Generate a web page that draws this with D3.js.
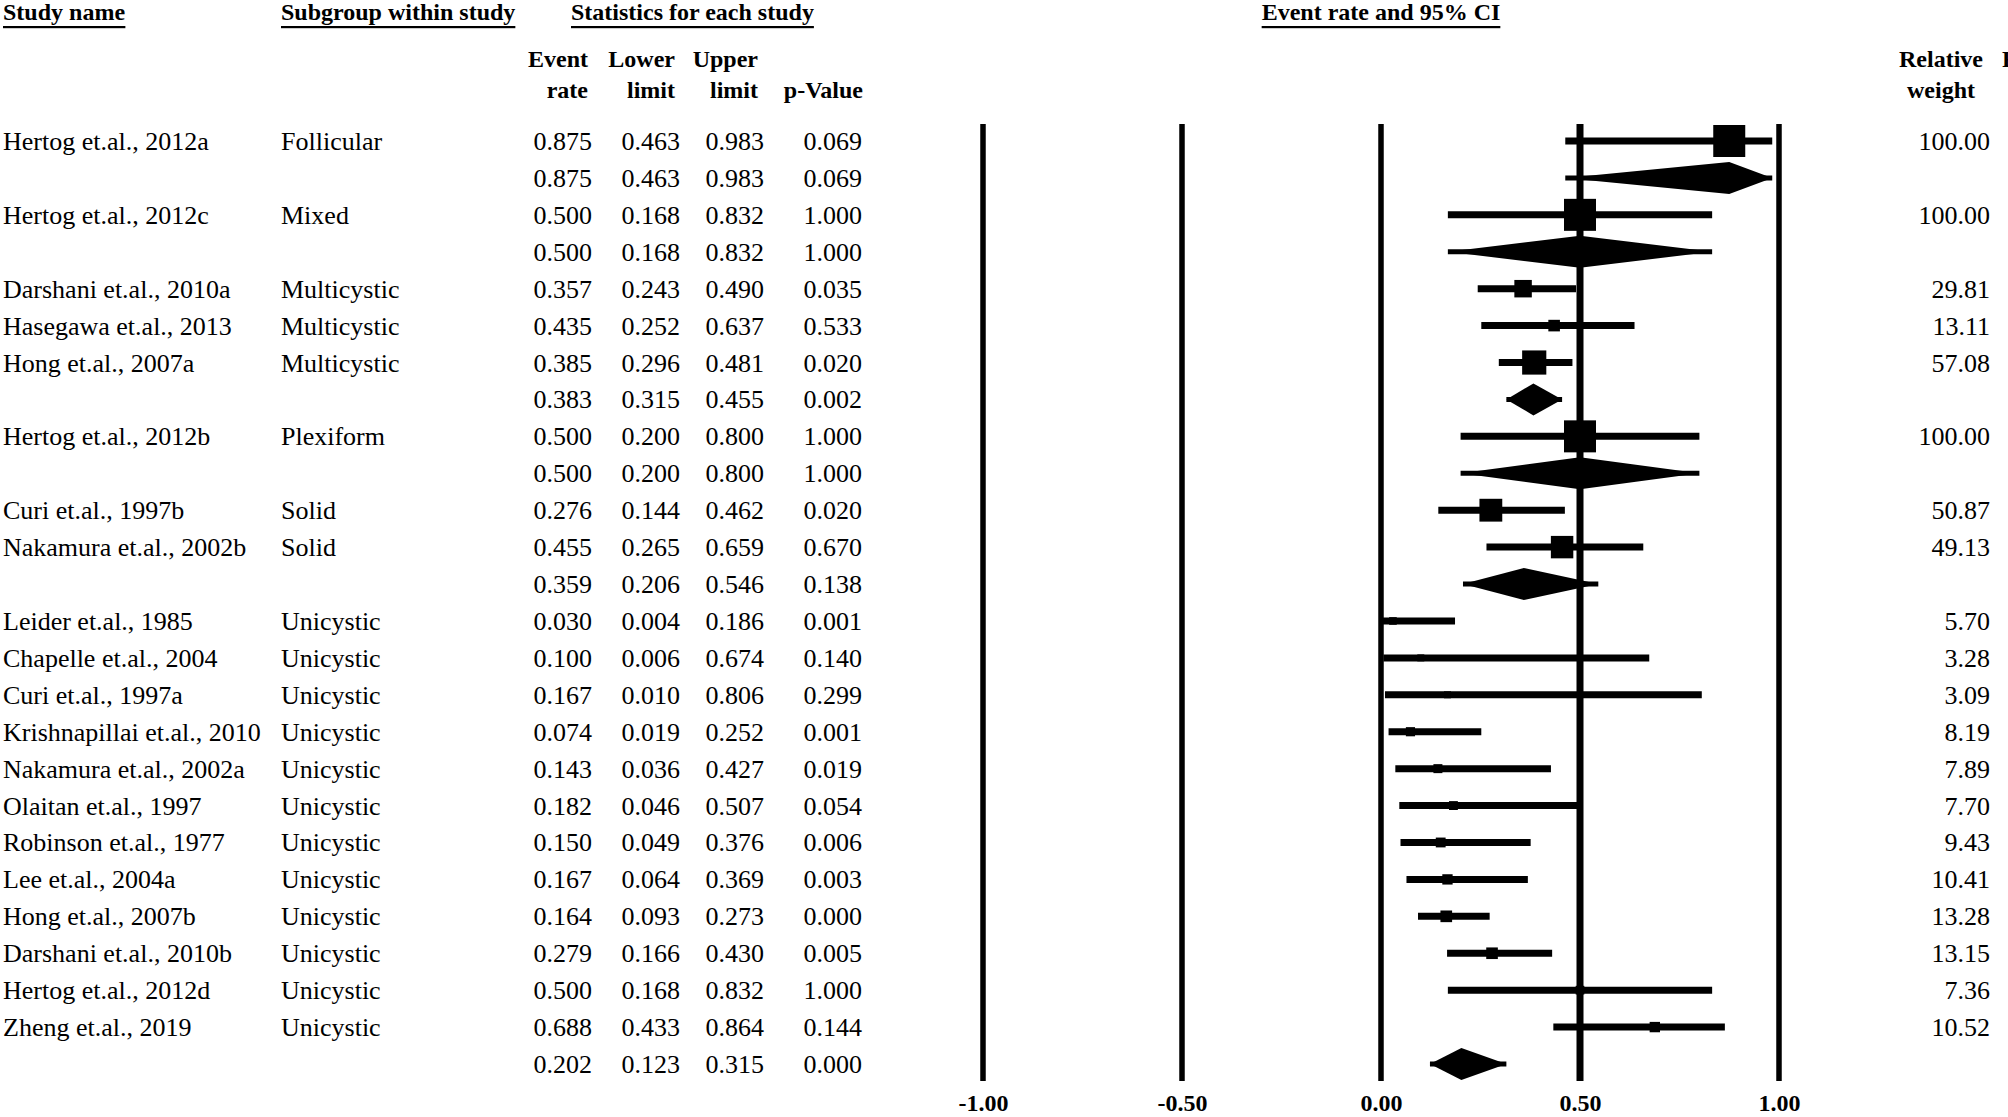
<!DOCTYPE html>
<html lang="en">
<head>
<meta charset="UTF-8">
<title>Forest plot - event rate and 95% CI</title>
<style>
  body { margin: 0; background: #fff; }
  svg { display: block; font-family: "Liberation Serif", "Times New Roman", serif; }
  .hdr { font-weight: bold; font-size: 24px; }
  .cell { font-size: 26px; }
</style>
</head>
<body>
<script src="https://cdn.jsdelivr.net/npm/d3@7"></script>
<script>
    const width = 2008, height = 1117;

    // one entry per row; summary (subgroup total) rows have an empty name
    const studyNames = ["Hertog et.al., 2012a", "", "Hertog et.al., 2012c", "",
        "Darshani et.al., 2010a", "Hasegawa et.al., 2013", "Hong et.al., 2007a", "",
        "Hertog et.al., 2012b", "", "Curi et.al., 1997b", "Nakamura et.al., 2002b", "",
        "Leider et.al., 1985", "Chapelle et.al., 2004", "Curi et.al., 1997a",
        "Krishnapillai et.al., 2010", "Nakamura et.al., 2002a", "Olaitan et.al., 1997",
        "Robinson et.al., 1977", "Lee et.al., 2004a", "Hong et.al., 2007b",
        "Darshani et.al., 2010b", "Hertog et.al., 2012d", "Zheng et.al., 2019", ""];
    const subgroups = ["Follicular", "", "Mixed", "",
        "Multicystic", "Multicystic", "Multicystic", "",
        "Plexiform", "", "Solid", "Solid", "",
        "Unicystic", "Unicystic", "Unicystic", "Unicystic", "Unicystic", "Unicystic",
        "Unicystic", "Unicystic", "Unicystic", "Unicystic", "Unicystic", "Unicystic", ""];
    const eventRate = [0.875, 0.875, 0.500, 0.500, 0.357, 0.435, 0.385, 0.383, 0.500, 0.500,
        0.276, 0.455, 0.359, 0.030, 0.100, 0.167, 0.074, 0.143, 0.182, 0.150, 0.167, 0.164,
        0.279, 0.500, 0.688, 0.202];
    const lowerLimit = [0.463, 0.463, 0.168, 0.168, 0.243, 0.252, 0.296, 0.315, 0.200, 0.200,
        0.144, 0.265, 0.206, 0.004, 0.006, 0.010, 0.019, 0.036, 0.046, 0.049, 0.064, 0.093,
        0.166, 0.168, 0.433, 0.123];
    const upperLimit = [0.983, 0.983, 0.832, 0.832, 0.490, 0.637, 0.481, 0.455, 0.800, 0.800,
        0.462, 0.659, 0.546, 0.186, 0.674, 0.806, 0.252, 0.427, 0.507, 0.376, 0.369, 0.273,
        0.430, 0.832, 0.864, 0.315];
    const pValue = [0.069, 0.069, 1.000, 1.000, 0.035, 0.533, 0.020, 0.002, 1.000, 1.000,
        0.020, 0.670, 0.138, 0.001, 0.140, 0.299, 0.001, 0.019, 0.054, 0.006, 0.003, 0.000,
        0.005, 1.000, 0.144, 0.000];
    const relWeight = [100.00, null, 100.00, null, 29.81, 13.11, 57.08, null, 100.00, null,
        50.87, 49.13, null, 5.70, 3.28, 3.09, 8.19, 7.89, 7.70, 9.43, 10.41, 13.28,
        13.15, 7.36, 10.52, null];
    const axisTicks = [-1, -0.5, 0, 0.5, 1];

    const rows = studyNames.map((name, i) => ({
        name, sub: subgroups[i], er: eventRate[i], lo: lowerLimit[i], hi: upperLimit[i],
        p: pValue[i], w: relWeight[i], summary: name === ""
    }));

    const x = d3.scaleLinear().domain([-1, 1]).range([983, 1779]);
    const y = d3.scalePoint().domain(d3.range(rows.length)).range([141, 1064]);
    const f3 = d3.format(".3f"), f2 = d3.format(".2f");

    const svg = d3.select("body").append("svg")
        .attr("width", width).attr("height", height)
        .attr("viewBox", [0, 0, width, height]);

    // underlined group headers
    const heads = [
        {t: "Study name", x: 3, a: "start"},
        {t: "Subgroup within study", x: 281, a: "start"},
        {t: "Statistics for each study", x: 571, a: "start"},
        {t: "Event rate and 95% CI", x: x(0), a: "middle"}
    ];
    heads.forEach(h => {
        const t = svg.append("text").attr("class", "hdr")
            .attr("x", h.x).attr("y", 20).attr("text-anchor", h.a).text(h.t);
        const bb = t.node().getBBox();
        svg.append("rect").attr("x", bb.x).attr("y", 26).attr("width", bb.width).attr("height", 2.2).attr("fill", "#000");
    });

    // column sub-headers
    const cols = [
        {l1: "Event", l2: "rate", x: 588},
        {l1: "Lower", l2: "limit", x: 675},
        {l1: "Upper", l2: "limit", x: 758},
        {l1: "", l2: "p-Value", x: 863}
    ];
    cols.forEach(c => {
        svg.append("text").attr("class", "hdr").attr("x", c.x).attr("y", 67).attr("text-anchor", "end").text(c.l1);
        svg.append("text").attr("class", "hdr").attr("x", c.x).attr("y", 98).attr("text-anchor", "end").text(c.l2);
    });
    svg.append("text").attr("class", "hdr").attr("x", 1941).attr("y", 67).attr("text-anchor", "middle").text("Relative");
    svg.append("text").attr("class", "hdr").attr("x", 1941).attr("y", 98).attr("text-anchor", "middle").text("weight");
    // next column header, cut off by the page edge as in the original
    svg.append("text").attr("class", "hdr").attr("x", 2002).attr("y", 67).text("Relative");
    svg.append("text").attr("class", "hdr").attr("x", 2010).attr("y", 98).text("weight");

    // table text
    const valEnds = {er: 592, lo: 680, hi: 764, p: 862};
    const tbl = svg.append("g").attr("class", "cell");
    rows.forEach((d, i) => {
        const by = y(i) + 9;
        tbl.append("text").attr("x", 3).attr("y", by).text(d.name);
        tbl.append("text").attr("x", 281).attr("y", by).text(d.sub);
        Object.keys(valEnds).forEach(k => {
            tbl.append("text").attr("x", valEnds[k]).attr("y", by).attr("text-anchor", "end").text(f3(d[k]));
        });
        if (d.w != null)
            tbl.append("text").attr("x", 1990).attr("y", by).attr("text-anchor", "end").text(f2(d.w));
    });

    // vertical reference lines
    svg.append("g").selectAll("line").data(axisTicks).join("line")
        .attr("x1", d => x(d)).attr("x2", d => x(d))
        .attr("y1", 124).attr("y2", 1081)
        .attr("stroke", "#000").attr("stroke-width", d => d === 0.5 ? 7 : 5.5);

    // axis labels
    svg.append("g")
        .attr("transform", "translate(0,1095)")
        .call(d3.axisBottom(x).tickValues(axisTicks).tickSize(0)
            .tickFormat(d => f2(d).replace("\u2212", "-")))
        .call(g => g.select(".domain").remove())
        .call(g => g.selectAll("text").attr("class", "hdr").attr("fill", "#000")
            .style("font-family", "'Liberation Serif', serif").attr("dy", 0).attr("y", 16));

    // confidence intervals
    const plot = svg.append("g");
    plot.selectAll("line.ci").data(rows).join("line").attr("class", "ci")
        .attr("x1", d => x(d.lo)).attr("x2", d => x(d.hi))
        .attr("y1", (d, i) => y(i)).attr("y2", (d, i) => y(i))
        .attr("stroke", "#000").attr("stroke-width", d => d.summary ? 5 : 7);

    // study squares, side by sqrt of weight
    const side = w => Math.max(7, 32 * Math.sqrt(w / 100));
    plot.selectAll("rect.pt").data(rows.map((d, i) => ({...d, i})).filter(d => !d.summary)).join("rect").attr("class", "pt")
        .attr("x", d => x(d.er) - side(d.w) / 2).attr("y", d => y(d.i) - side(d.w) / 2)
        .attr("width", d => side(d.w)).attr("height", d => side(d.w)).attr("fill", "#000");

    // summary diamonds
    const dh = 16;
    plot.selectAll("path.dia").data(rows.map((d, i) => ({...d, i})).filter(d => d.summary)).join("path").attr("class", "dia")
        .attr("d", d => {
            const cy = y(d.i);
            return `M${x(d.lo)},${cy}L${x(d.er)},${cy - dh}L${x(d.hi)},${cy}L${x(d.er)},${cy + dh}Z`;
        })
        .attr("fill", "#000");
</script>
</body>
</html>
